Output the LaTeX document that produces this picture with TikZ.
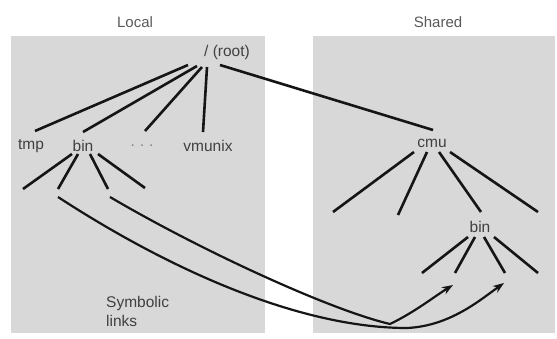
\documentclass[tikz,border=0pt]{standalone}
\usepackage{fontspec}
\setmainfont{Liberation Sans}
\usetikzlibrary{arrows.meta}
\definecolor{panelgray}{HTML}{D8D8D8}
\definecolor{txtgray}{HTML}{404040}
\definecolor{ttlgray}{HTML}{5A5A5A}
\definecolor{linecol}{HTML}{151515}
\tikzset{
  panel/.style={fill=panelgray, draw=none},
  ttl/.style={text=ttlgray, font=\fontsize{15}{18}\selectfont, inner sep=0pt},
  lbl/.style={text=txtgray, font=\fontsize{15.5}{18}\selectfont, inner sep=0pt},
  edge/.style={draw=linecol, line width=2.6pt},
  link/.style={draw=linecol, line width=2.2pt, -{Stealth[length=11pt,width=8pt]}}
}
\begin{document}
\begin{tikzpicture}[x=1pt,y=-1pt]
\useasboundingbox (0,0) rectangle (557,338);
\fill[panel] (11,36) rectangle (265,333);
\fill[panel] (313,36) rectangle (555,333);
\node[ttl] (ltitle) at (135,22) {Local};
\node[ttl] (stitle) at (438,22) {Shared};
\node[lbl] (root) at (227,52) {/ (root)};
\node[lbl] (tmp) at (31,146) {tmp};
\node[lbl] (bin) at (83,146) {bin};
\node[lbl, text=gray] (dots) at (142,146) {.\hspace{5pt}.\hspace{5pt}.};
\node[lbl] (vmunix) at (208,146) {vmunix};
\node[lbl] (cmu) at (432,143) {cmu};
\node[lbl] (sbin) at (480,227) {bin};
\node[lbl, anchor=west, align=left] (sym) at (106,311) {Symbolic\\[1pt]links};
% root branches
\coordinate (ra) at (188,65); \coordinate (rb) at (197,66);
\coordinate (rc) at (202,67); \coordinate (rd) at (207,67);
\coordinate (re) at (220,65);
\coordinate (tmpt) at (35,131); \coordinate (bint) at (83,132);
\coordinate (dotst) at (145,131); \coordinate (vmt) at (203,132);
\coordinate (cmut) at (433,130);
\draw[edge] (ra) -- (tmpt);
\draw[edge] (rb) -- (bint);
\draw[edge] (rc) -- (dotst);
\draw[edge] (rd) -- (vmt);
\draw[edge] (re) -- (cmut);
% local bin children
\coordinate (b1) at (72,154); \coordinate (b2) at (78,154);
\coordinate (b3) at (90,154); \coordinate (b4) at (98,154);
\coordinate (l1) at (23,189); \coordinate (l2) at (58,189);
\coordinate (l3) at (108,189); \coordinate (l4) at (145,188);
\draw[edge] (b1) -- (l1);
\draw[edge] (b2) -- (l2);
\draw[edge] (b3) -- (l3);
\draw[edge] (b4) -- (l4);
% cmu children
\coordinate (c1) at (414,152); \coordinate (c2) at (427,152);
\coordinate (c3) at (439,152); \coordinate (c4) at (450,152);
\coordinate (m1) at (333,212); \coordinate (m2) at (398,215);
\coordinate (m3) at (481,212); \coordinate (m4) at (538,212);
\draw[edge] (c1) -- (m1);
\draw[edge] (c2) -- (m2);
\draw[edge] (c3) -- (m3);
\draw[edge] (c4) -- (m4);
% shared bin children
\coordinate (s1) at (468,237); \coordinate (s2) at (475,237);
\coordinate (s3) at (484,237); \coordinate (s4) at (494,237);
\coordinate (t1) at (422,273); \coordinate (t2) at (455,273);
\coordinate (t3) at (505,273); \coordinate (t4) at (538,273);
\draw[edge] (s1) -- (t1);
\draw[edge] (s2) -- (t2);
\draw[edge] (s3) -- (t3);
\draw[edge] (s4) -- (t4);
% symbolic links
\coordinate (k1) at (110,197); \coordinate (k2) at (58,197);
\coordinate (a1) at (453,285); \coordinate (a2) at (504,283);
\draw[link] (k1) .. controls (200,250) and (330,310) .. (390,324)
  .. controls (415,312) and (435,296) .. (a1);
\draw[link] (k2) .. controls (170,270) and (300,328) .. (407,328)
  .. controls (450,326) and (480,300) .. (a2);
\end{tikzpicture}
\end{document}
